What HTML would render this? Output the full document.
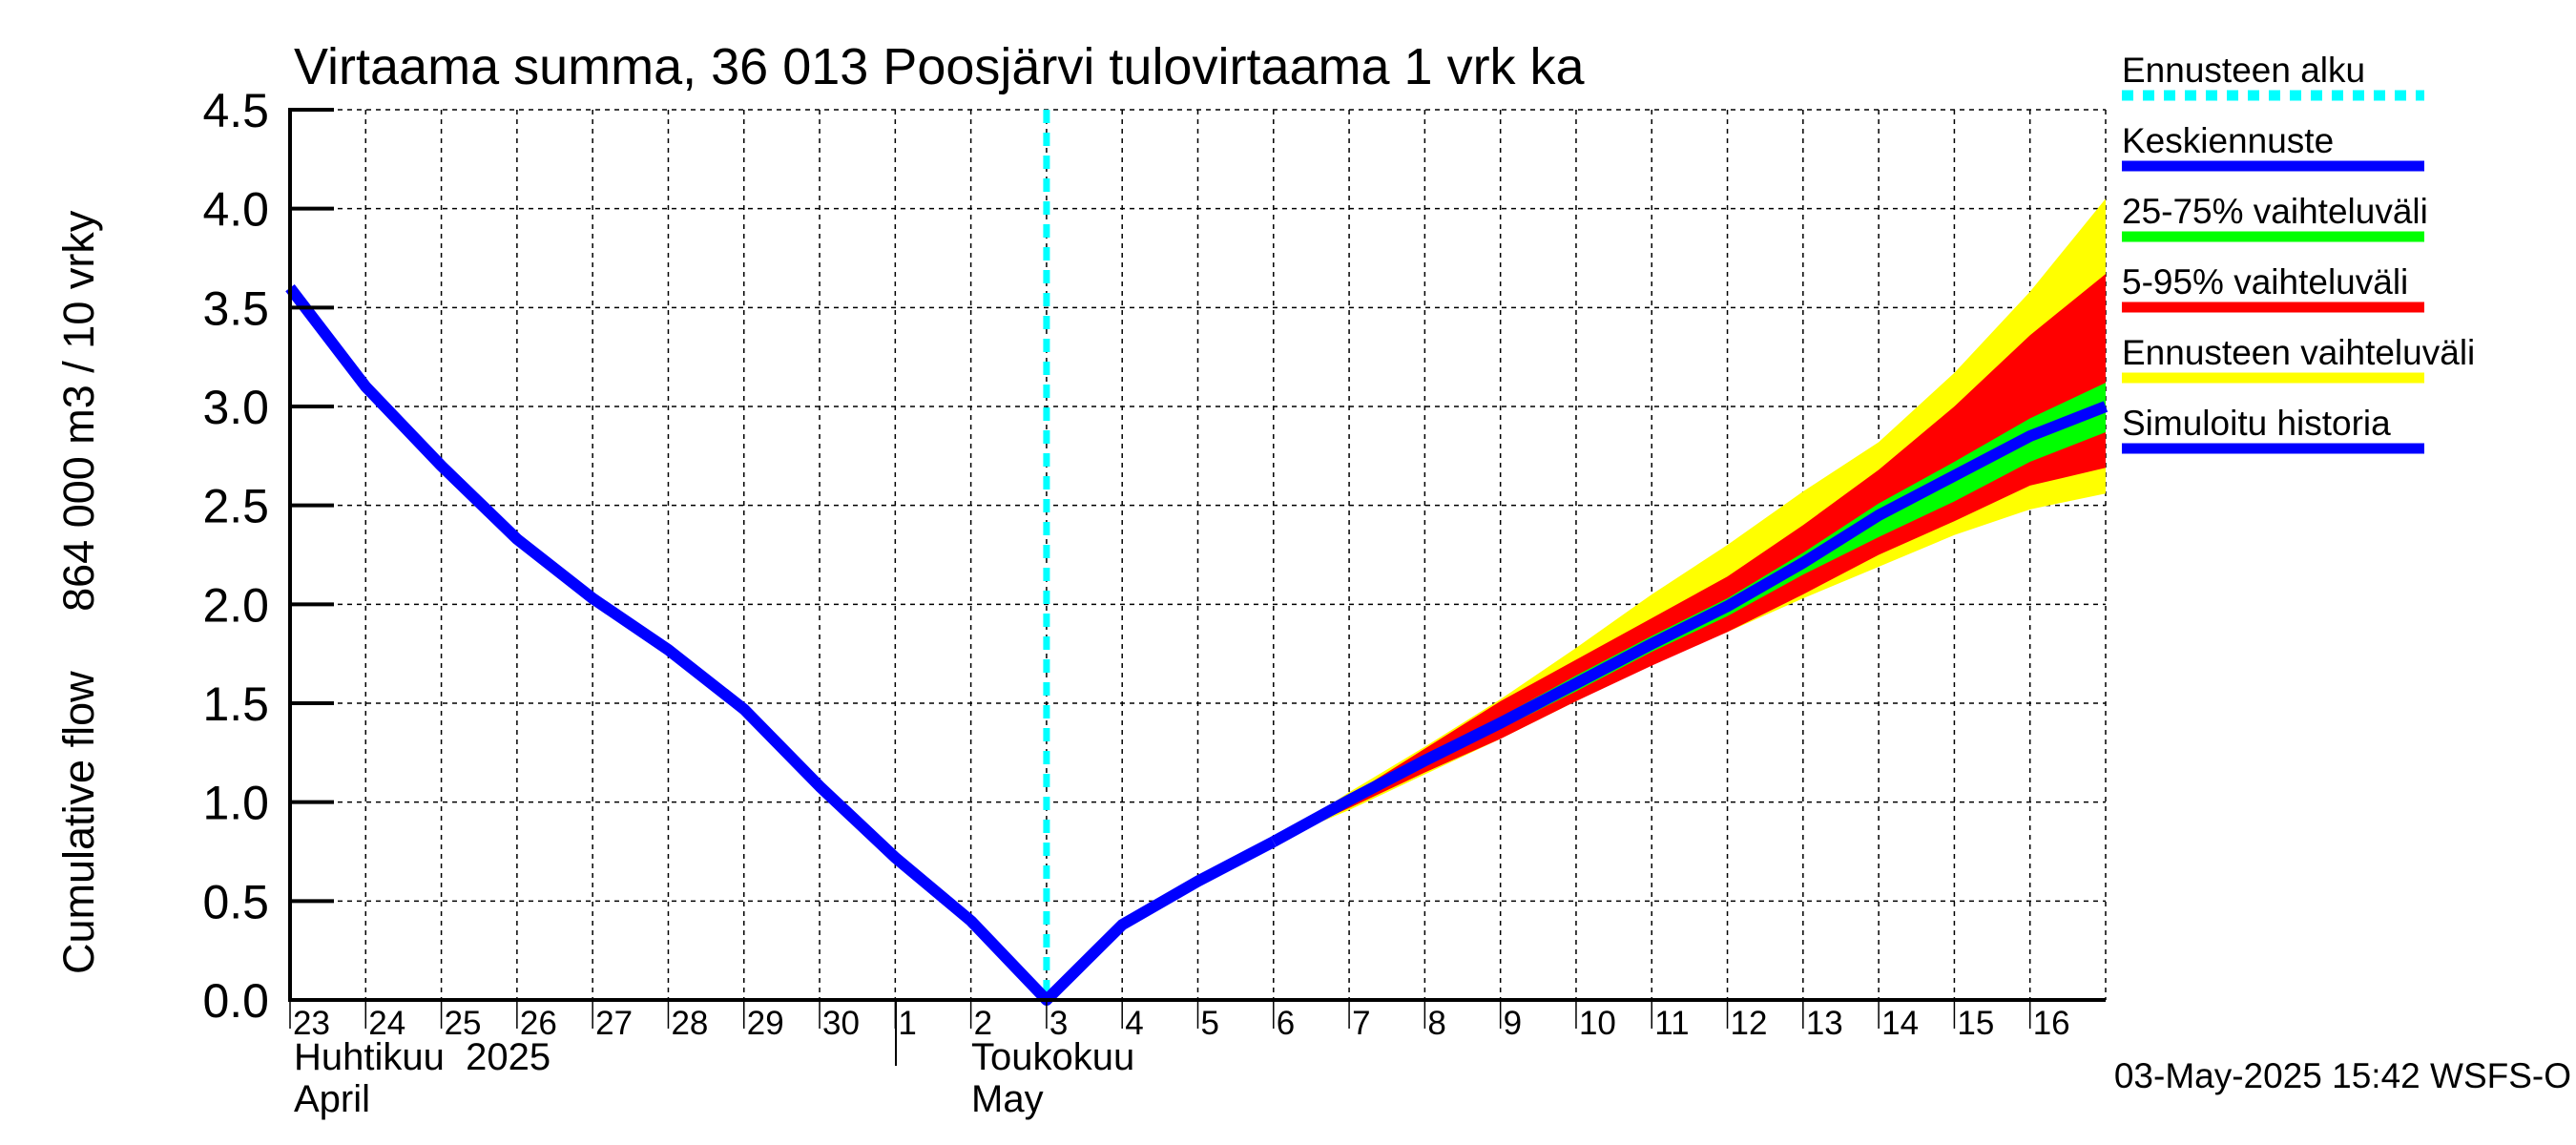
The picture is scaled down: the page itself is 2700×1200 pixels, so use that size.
<!DOCTYPE html>
<html><head><meta charset="utf-8">
<style>
html,body{margin:0;padding:0;background:#fff;}
svg{display:block;font-family:"Liberation Sans",sans-serif;}
</style></head>
<body>
<svg id="chart" width="2700" height="1200" viewBox="0 0 2700 1200" xmlns="http://www.w3.org/2000/svg">
<g id="grid"></g>
<g id="bands"></g>
<g id="lines"></g>
<g id="axes"></g>
<text x="308" y="88" font-size="54">Virtaama summa, 36 013 Poosjärvi tulovirtaama 1 vrk ka</text>
<text transform="translate(98,1021) rotate(-90)" font-size="45" xml:space="preserve">Cumulative flow     864 000 m3 / 10 vrky</text>
<text x="308" y="1121" font-size="40" xml:space="preserve">Huhtikuu  2025</text>
<text x="308" y="1165" font-size="40">April</text>
<text x="1018" y="1121" font-size="40">Toukokuu</text>
<text x="1018" y="1165" font-size="40">May</text>
<line x1="939" y1="1048" x2="939" y2="1117" stroke="#000" stroke-width="2"/>
<text x="2695" y="1140" font-size="37" text-anchor="end">03-May-2025 15:42 WSFS-O</text>
<g id="legend"></g>
</svg>
<script>
const categories = ["23","24","25","26","27","28","29","30","1","2","3","4","5","6","7","8","9","10","11","12","13","14","15","16"];
const yTicks = ["0.0","0.5","1.0","1.5","2.0","2.5","3.0","3.5","4.0","4.5"];
const historyIdx = [0,1,2,3,4,5,6,7,8,9,10,11,12,13];
const historyVals = [3.6,3.1,2.7,2.33,2.03,1.77,1.47,1.08,0.72,0.4,0.0,0.38,0.6,0.8];
const fcIdx = [13,14,15,16,17,18,19,20,21,22,23,24];
const meanVals = [0.8,1.01,1.21,1.4,1.6,1.8,1.99,2.21,2.45,2.65,2.85,3.0];
const yellowHi = [0.8,1.05,1.28,1.52,1.78,2.05,2.3,2.57,2.82,3.17,3.58,4.05];
const yellowLo = [0.8,0.96,1.14,1.32,1.51,1.7,1.86,2.03,2.19,2.35,2.48,2.56];
const redHi = [0.8,1.03,1.27,1.51,1.72,1.93,2.14,2.4,2.68,3.0,3.36,3.67];
const redLo = [0.8,0.97,1.15,1.32,1.51,1.69,1.86,2.05,2.25,2.42,2.6,2.69];
const greenHi = [0.8,1.02,1.23,1.43,1.64,1.84,2.03,2.26,2.51,2.72,2.94,3.12];
const greenLo = [0.8,1.0,1.19,1.37,1.56,1.76,1.94,2.15,2.34,2.52,2.72,2.87];
const forecastStart = 10;

const X0=304, X1=2207, Y0=1048, Y1=115, XMAX=24, YMAX=4.5;
const xs = i => X0 + (X1-X0)*i/XMAX;
const ys = v => Y0 - (Y0-Y1)*v/YMAX;
const NS="http://www.w3.org/2000/svg";
function mk(tag, parent, attrs){const e=document.createElementNS(NS,tag);for(const k in attrs)e.setAttribute(k,attrs[k]);parent.appendChild(e);return e;}
const grid=document.getElementById('grid'), axes=document.getElementById('axes'), bands=document.getElementById('bands'), lines=document.getElementById('lines'), legend=document.getElementById('legend');

// grid
for(let i=1;i<=XMAX;i++){
  const l=mk('line',grid,{x1:xs(i),y1:Y1,x2:xs(i),y2:Y0,stroke:'#000','stroke-width':1.5,'stroke-dasharray':'5,5'});
  
  
}
yTicks.forEach((t,k)=>{
  if(k===0) return;
  const l=mk('line',grid,{x1:X0,y1:ys(+t),x2:X1,y2:ys(+t),stroke:'#000','stroke-width':1.5,'stroke-dasharray':'5,5'});
  
  
});

// bands
function band(hi,lo,color,name){
  let d='M'+fcIdx.map((i,k)=>xs(i)+','+ys(hi[k])).join(' L');
  d+=' L'+fcIdx.slice().reverse().map((i,k)=>xs(i)+','+ys(lo[lo.length-1-k])).join(' L')+' Z';
  const p=mk('path',bands,{d:d,fill:color});
  
  
}
band(yellowHi,yellowLo,'#ffff00','band-forecast-range');
band(redHi,redLo,'#ff0000','band-5-95');
band(greenHi,greenLo,'#00ff00','band-25-75');

// forecast start line
const fs=mk('line',lines,{x1:xs(forecastStart),y1:Y1,x2:xs(forecastStart),y2:Y0,stroke:'#00ffff','stroke-width':7,'stroke-dasharray':'14,10'});



// lines
const hist=mk('polyline',lines,{points:historyIdx.map((i,k)=>xs(i)+','+ys(historyVals[k])).join(' '),fill:'none',stroke:'#0000ff','stroke-width':12,'stroke-linejoin':'round'});


const mean=mk('polyline',lines,{points:fcIdx.map((i,k)=>xs(i)+','+ys(meanVals[k])).join(' '),fill:'none',stroke:'#0000ff','stroke-width':12,'stroke-linejoin':'round'});



// axes
const ax1=mk('line',axes,{x1:X0,y1:Y1-2,x2:X0,y2:Y0+2,stroke:'#000','stroke-width':4});


const ax2=mk('line',axes,{x1:X0,y1:Y0,x2:X1,y2:Y0,stroke:'#000','stroke-width':4});


yTicks.forEach(t=>{
  const tk=mk('line',axes,{x1:X0,y1:ys(+t),x2:X0+46,y2:ys(+t),stroke:'#000','stroke-width':4});
  
  
  const tx=mk('text',axes,{x:X0-22,y:ys(+t)+18,'font-size':50,'text-anchor':'end'});
  tx.textContent=t;
  
  
});
categories.forEach((c,i)=>{
  const tk=mk('line',axes,{x1:xs(i),y1:Y0,x2:xs(i),y2:Y0+30,stroke:'#000','stroke-width':1.5});
  
  
  const tx=mk('text',axes,{x:xs(i)+3,y:Y0+36,'font-size':35});
  tx.textContent=c;
  
  
});

// legend
const legItems=[["Ennusteen alku","#00ffff",true],["Keskiennuste","#0000ff",false],["25-75% vaihteluväli","#00ff00",false],["5-95% vaihteluväli","#ff0000",false],["Ennusteen vaihteluväli","#ffff00",false],["Simuloitu historia","#0000ff",false]];
legItems.forEach((it,k)=>{
  const y=100+k*74;
  const t=mk('text',legend,{x:2224,y:y-14,'font-size':37});
  t.textContent=it[0];
  
  
  const a={x1:2224,y1:y,x2:2541,y2:y,stroke:it[1],'stroke-width':11};
  if(it[2]) a['stroke-dasharray']='12,10';
  const l=mk('line',legend,a);
  
  
});
</script>
</body></html>
